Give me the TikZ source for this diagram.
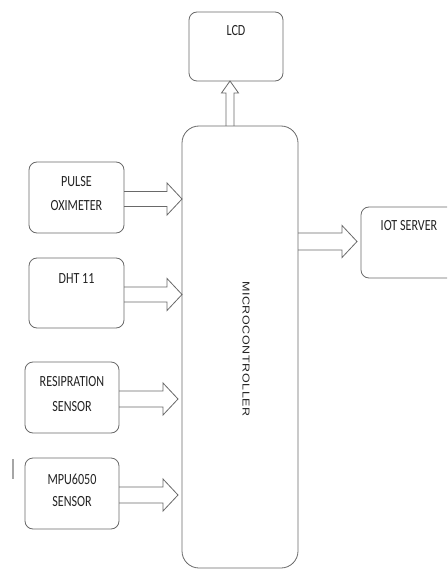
\documentclass[tikz,border=0pt]{standalone}
\usepackage{fontspec}
\setmainfont{Carlito}[FakeStretch=0.78]
\newfontfamily\rotfont{Liberation Sans}[LetterSpace=5]
\usetikzlibrary{calc}
\definecolor{linecol}{RGB}{105,105,105}
\definecolor{textcol}{RGB}{35,35,35}
\tikzset{
  blk/.style={draw=linecol, line width=0.8pt, rounded corners=#1, inner sep=0pt, outer sep=0pt},
  blk/.default=8pt,
  txt/.style={text=textcol, inner sep=0pt, font=\fontsize{15.5}{18}\selectfont},
  arr/.style={draw=linecol, line width=0.8pt, line join=miter},
}
% horizontal block arrow: #1 start, #2 tip, #3 shaft half-width
\newcommand\blkarrowh[3]{%
  \draw[arr] ($(#1)+(0,#3)$) -- ($(#2)+(-15,#3)$) -- ($(#2)+(-15,16)$) -- (#2)
    -- ($(#2)+(-15,-16)$) -- ($(#2)+(-15,-#3)$) -- ($(#1)+(0,-#3)$);}
\begin{document}
\begin{tikzpicture}[x=1pt,y=-1pt]
\fill[white] (0,0) rectangle (447,569);
\path[use as bounding box, clip] (0,0) rectangle (447,569);

% boxes
\node[blk, minimum width=94, minimum height=69] (lcd) at (236,46.5) {};
\node[blk=17pt, minimum width=116, minimum height=442] (mcu) at (240,347) {};
\node[blk, minimum width=95, minimum height=71] (pulse) at (76.5,197.5) {};
\node[blk, minimum width=95, minimum height=70] (dht) at (76.5,293) {};
\node[blk, minimum width=94, minimum height=71] (resp) at (72,397.5) {};
\node[blk, minimum width=94, minimum height=71] (mpu) at (72,493.5) {};
\node[blk, minimum width=99, minimum height=71] (iot) at (410.5,242.5) {};

% texts
\node[txt] (lcdt) at ($(lcd.north)+(0,19)$) {LCD};
\node[txt] (pulset1) at ($(pulse.north)+(0,20)$) {PULSE};
\node[txt] (pulset2) at ($(pulse.north)+(0,44)$) {OXIMETER};
\node[txt] (dhtt) at ($(dht.north)+(0,21)$) {DHT 11};
\node[txt] (respt1) at ($(resp.north)+(0,20)$) {RESIPRATION};
\node[txt] (respt2) at ($(resp.north)+(0,45)$) {SENSOR};
\node[txt] (mput1) at ($(mpu.north)+(0,21)$) {MPU6050};
\node[txt] (mput2) at ($(mpu.north)+(0,44)$) {SENSOR};
\node[txt] (iott) at ($(iot.north)+(-1.5,19)$) {IOT SERVER};
\node[text=textcol, inner sep=0pt, rotate=-90, font=\rotfont\fontsize{12.5}{14}\selectfont]
  (mcut) at ($(mcu.center)+(6,2)$) {\scalebox{1}[0.8]{MICROCONTROLLER}};

% arrows into microcontroller
\coordinate (pa) at ($(pulse.east)+(0,1.5)$);
\coordinate (pb) at (mcu.west |- pa);
\blkarrowh{pa}{pb}{7.5}
\coordinate (da) at ($(dht.east)+(0,1.5)$);
\coordinate (db) at (mcu.west |- da);
\blkarrowh{da}{db}{7.5}
\coordinate (ra) at ($(resp.east)+(0,1.5)$);
\coordinate (rb) at ($(mcu.west |- ra)+(-4,0)$);
\blkarrowh{ra}{rb}{8}
\coordinate (ma) at ($(mpu.east)+(0,1.5)$);
\coordinate (mb) at ($(mcu.west |- ma)+(-4,0)$);
\blkarrowh{ma}{mb}{8}
% arrow to IOT server
\coordinate (ia) at (mcu.east |- 0,241.5);
\coordinate (ib) at ($(iot.west |- ia)+(-4,0)$);
\blkarrowh{ia}{ib}{8.5}
% arrow to LCD
\coordinate (lt) at ($(lcd.south)+(-6,0)$);
\coordinate (lb) at (lt |- mcu.north);
\draw[arr] ($(lb)+(-4,0)$) -- ($(lt)+(-4,12)$) -- ($(lt)+(-8.5,12)$) -- (lt)
  -- ($(lt)+(8.5,12)$) -- ($(lt)+(4,12)$) -- ($(lb)+(4,0)$);

% stray mark
\draw[draw=black!35, line width=1.2pt] ($(mpu.north west)+(-12,1)$) coordinate (s1) -- ($(s1)+(0,20)$);
\end{tikzpicture}
\end{document}
